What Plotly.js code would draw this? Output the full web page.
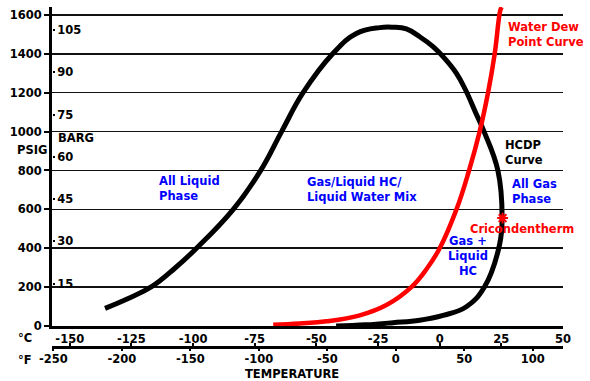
<!DOCTYPE html>
<html>
<head>
<meta charset="utf-8">
<script src="https://cdn.plot.ly/plotly-3.0.1.min.js"></script>
<style>html,body{margin:0;padding:0;background:#fff;}#chart{width:590px;height:381px;}</style>
</head>
<body>
<div id="chart"></div>
<script>
// HCDP (hydrocarbon dew point) curve: temperature °C, pressure psig
const hcdpTempC = [-135.7, -126.3, -116.8, -107.4, -98.6, -83.7, -72.5, -64.1, -55.4, -43.2, -33.8, -24.3, -19, -13.5, -8.1, -2.7, 2, 6.8, 10.5, 14.5, 18, 23.6, 25.3, 24.3, 18.2, 10.8, 1.4, -8.1, -18.9, -30, -42];
const hcdpPsig  = [91, 142, 202, 297, 400, 600, 802, 1000, 1200, 1403, 1505, 1535, 1537, 1528, 1488, 1437, 1377, 1300, 1214, 1100, 1000, 800, 561, 420, 202, 99, 55, 30, 17, 6, 0];
// Water dew point curve
const wdpTempC = [-67.5, -56.8, -45.9, -32.4, -21.6, -11.5, -5.1, 0, 6.8, 11.9, 16.2, 19.6, 22.3, 24.6, 25.2];
const wdpPsig  = [6, 13, 24, 55, 108, 200, 297, 400, 600, 800, 1000, 1200, 1400, 1625, 1641];
// Cricondentherm point
const cricoTempC = [25.5];
const cricoPsig = [555];
// Axis ticks
const psigTicks = [0, 200, 400, 600, 800, 1000, 1200, 1400, 1600];
const bargTicks = [15, 30, 45, 60, 75, 90, 105];
const cTicks = [-150, -125, -100, -75, -50, -25, 0, 25, 50];
const fTicks = [-250, -200, -150, -100, -50, 0, 50, 100];

const PSI_PER_BAR = 14.5038;
const xRangeC = [-157.2, 50];
const yRangePsig = [0, 1641];
const xRangeF = xRangeC.map(c => c * 9 / 5 + 32);
const yRangeBarg = yRangePsig.map(p => p / PSI_PER_BAR);

const FONT = 'DejaVu Sans';
const fnt = (size, color) => ({family: FONT, size: size, color: color || '#000', weight: 700});
const bold = v => '<b>' + v + '</b>';
const BLUE = '#0000ff';
const RED = '#ff0000';

const ghost = {mode: 'markers', marker: {opacity: 0, size: 1}, hoverinfo: 'skip'};
const traces = [
  {x: hcdpTempC, y: hcdpPsig, mode: 'lines', line: {color: '#000', width: 5, shape: 'spline', smoothing: 1.2}, xaxis: 'x', yaxis: 'y'},
  {x: wdpTempC, y: wdpPsig, mode: 'lines', line: {color: RED, width: 4.5, shape: 'spline', smoothing: 1.2}, xaxis: 'x', yaxis: 'y'},
  {x: cricoTempC, y: cricoPsig, mode: 'markers', marker: {symbol: 'asterisk-open', size: 9, color: RED, line: {color: RED, width: 2}}, xaxis: 'x', yaxis: 'y'},
  // invisible carriers so the secondary axes are drawn
  Object.assign({x: xRangeF, y: yRangePsig, xaxis: 'x2', yaxis: 'y'}, ghost),
  Object.assign({x: xRangeC, y: yRangePsig, xaxis: 'x3', yaxis: 'y'}, ghost),
  Object.assign({x: xRangeF, y: yRangePsig, xaxis: 'x4', yaxis: 'y'}, ghost),
  Object.assign({x: xRangeC, y: yRangeBarg, xaxis: 'x', yaxis: 'y2'}, ghost)
];

const ann = (x, y, text, color, xanchor, extra) => Object.assign({
  x: x, y: y, xref: 'x', yref: 'y', text: text, showarrow: false,
  xanchor: xanchor || 'left', yanchor: 'middle', align: xanchor === 'center' ? 'center' : 'left',
  font: fnt(11.5, color)
}, extra || {});
const pann = (x, y, text, xanchor) => ({
  x: x, y: y, xref: 'paper', yref: 'paper', text: text, showarrow: false,
  xanchor: xanchor || 'left', yanchor: 'middle', font: fnt(11.5, '#000')
});

const layout = {
  width: 590, height: 381,
  margin: {l: 52, r: 27, t: 7, b: 34},
  paper_bgcolor: '#fff', plot_bgcolor: '#fff',
  showlegend: false, hovermode: false,
  xaxis: {
    range: xRangeC, tickvals: cTicks, ticktext: cTicks.map(bold),
    showgrid: false, zeroline: false, showline: true, linewidth: 3, linecolor: '#000',
    ticks: '', tickfont: fnt(11.5), anchor: 'y'
  },
  // °F scale: labels
  xaxis2: {
    overlaying: 'x', anchor: 'free', position: 0, side: 'bottom',
    range: xRangeF, tickvals: fTicks, ticktext: fTicks.map(bold),
    showgrid: false, zeroline: false, showline: true, linewidth: 3, linecolor: '#000',
    ticks: '', tickfont: fnt(11.5)
  },
  // °C ticks on the °F line
  xaxis3: {
    overlaying: 'x', anchor: 'free', position: 0, side: 'bottom',
    range: xRangeC, tickvals: cTicks, showticklabels: false,
    showgrid: false, zeroline: false, showline: false,
    ticks: 'inside', ticklen: 4, tickwidth: 2, tickcolor: '#000'
  },
  // °F ticks
  xaxis4: {
    overlaying: 'x', anchor: 'free', position: 0, side: 'bottom',
    range: xRangeF, tickvals: fTicks, showticklabels: false,
    showgrid: false, zeroline: false, showline: false,
    ticks: 'outside', ticklen: 3, tickwidth: 2, tickcolor: '#000'
  },
  yaxis: {
    domain: [21 / 340, 1], range: yRangePsig, tickvals: psigTicks, ticktext: psigTicks.map(bold),
    showgrid: true, gridcolor: '#111', gridwidth: 1.5, zeroline: false,
    showline: true, linewidth: 3, linecolor: '#000',
    ticks: 'outside', ticklen: 5, tickwidth: 2, tickcolor: '#000', tickfont: fnt(11.5)
  },
  // BARG scale drawn just inside the left axis
  yaxis2: {
    overlaying: 'y', anchor: 'free', position: 0, side: 'right',
    range: yRangeBarg, tickvals: bargTicks, ticktext: bargTicks.map(bold),
    showgrid: false, zeroline: false, showline: false,
    ticks: 'outside', ticklen: 2, tickwidth: 2, tickcolor: '#000', tickfont: fnt(11.5)
  },
  annotations: [
    ann(-114.8, 705, 'All Liquid<br>Phase', BLUE),
    ann(-54.7, 700, 'Gas/Liquid HC/<br>Liquid Water Mix', BLUE),
    ann(28.4, 694, 'All Gas<br>Phase', BLUE),
    ann(11.4, 360, 'Gas +<br>Liquid<br>HC', BLUE, 'center'),
    ann(25.7, 890, 'HCDP<br>Curve', '#000'),
    ann(26.8, 1502, 'Water Dew<br>Point Curve', RED),
    ann(11.4, 499, 'Cricondentherm', RED),
    pann(-0.0724, 0.579, 'PSIG'),
    pann(0.0078, 0.615, 'BARG'),
    pann(-0.0705, 0.0265, '°C'),
    pann(-0.0705, -0.038, '°F'),
    pann(0.4697, -0.0794, 'TEMPERATURE', 'center')
  ]
};

Plotly.newPlot('chart', traces, layout, {staticPlot: true, displayModeBar: false});
</script>
</body>
</html>
